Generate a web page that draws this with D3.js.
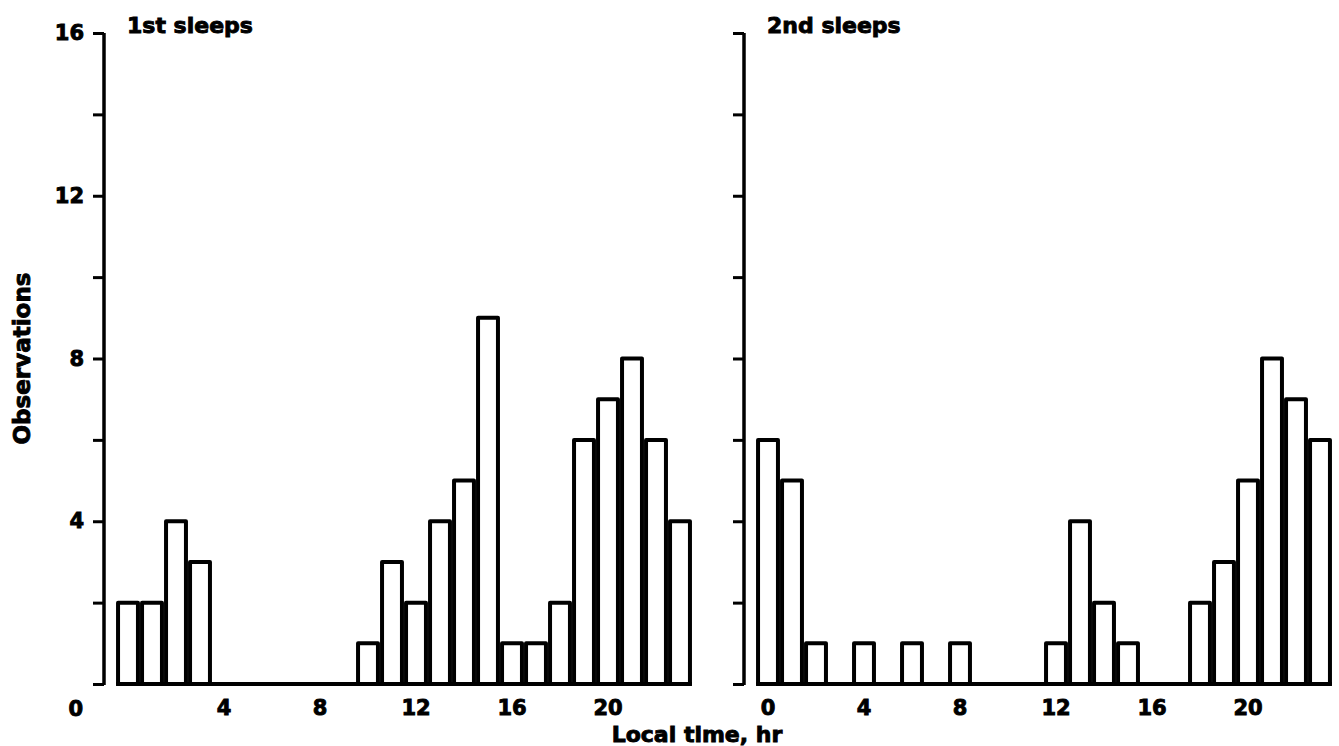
<!DOCTYPE html>
<html>
<head>
<meta charset="utf-8">
<script src="https://cdn.jsdelivr.net/npm/d3@7/dist/d3.min.js"></script>
<style>
  html, body { margin: 0; padding: 0; background: #fff; }
  svg { display: block; }
  text { font-family: "DejaVu Sans", "Liberation Sans", sans-serif; font-weight: bold; fill: #000; stroke: #000; stroke-width: 0.9px; }
</style>
</head>
<body>
<svg id="chart" width="1339" height="746"></svg>
<script>
// ---- data ----
const hours = d3.range(24);
const firstSleeps  = [2,2,4,3,0,0,0,0,0,0,1,3,2,4,5,9,1,1,2,6,7,8,6,4];
const secondSleeps = [6,5,1,0,1,0,1,0,1,0,0,0,1,4,2,1,0,0,2,3,5,8,7,6];
const panelTitles = ["1st sleeps", "2nd sleeps"];
const yTicks = [0,2,4,6,8,10,12,14,16];
const yTickLabels = [4,8,12,16];
const xTicksLeft = [4,8,12,16,20];
const xTicksRight = [0,4,8,12,16,20];
const yTitle = "Observations";
const xTitle = "Local time, hr";

// ---- layout ----
const svg = d3.select("#chart");
svg.append("rect").attr("width",1339).attr("height",746).attr("fill","#fff");

const y = d3.scaleLinear().domain([0,16]).range([684,33]);

const panels = [
  {data: firstSleeps, title: panelTitles[0], dx: 0, xt: xTicksLeft, labels: true},
  {data: secondSleeps, title: panelTitles[1], dx: 640, xt: xTicksRight, labels: false}
];

panels.forEach(p => {
  const g = svg.append("g").attr("transform", `translate(${p.dx},0)`);
  const x = d3.scaleBand().domain(hours).range([116, 692]).paddingInner(0.17).paddingOuter(0.085);

  // y axis
  const yAxis = d3.axisLeft(y).tickValues(yTicks).tickSize(11).tickPadding(8)
    .tickFormat(d => (p.labels && yTickLabels.includes(d)) ? d : "");
  const ya = g.append("g").attr("transform","translate(104,0)").call(yAxis);
  ya.select(".domain").attr("d", `M0,${y(16)}V${y(0)+1}`).attr("stroke","#000").attr("stroke-width",3.5).attr("fill","none");
  ya.selectAll(".tick line").attr("stroke","#000").attr("stroke-width",3);
  ya.selectAll(".tick text").attr("font-size",21).attr("font-family","DejaVu Sans").attr("font-weight","bold").attr("fill","#000").attr("dx",-1);

  // bars
  const rows = hours.map(h => ({h, v: p.data[h]})).filter(d => d.v > 0);
  g.append("g").selectAll("rect").data(rows).join("rect")
    .attr("x", d => x(d.h))
    .attr("width", x.bandwidth())
    .attr("y", d => y(d.v))
    .attr("height", d => y(0) - y(d.v))
    .attr("fill","#fff")
    .attr("stroke","#000")
    .attr("stroke-width",4)
    .attr("stroke-linejoin","round");

  // baseline
  g.append("line")
    .attr("x1", x(0) - 2).attr("x2", x(23) + x.bandwidth() + 2)
    .attr("y1", y(0)).attr("y2", y(0))
    .attr("stroke","#000").attr("stroke-width",4);

  // x tick labels
  const xAxis = d3.axisBottom(x).tickValues(p.xt).tickSize(0).tickPadding(16);
  const xa = g.append("g").attr("transform",`translate(0,${y(0)})`).call(xAxis);
  xa.select(".domain").remove();
  xa.selectAll(".tick text").attr("font-size",21).attr("font-family","DejaVu Sans").attr("font-weight","bold").attr("fill","#000");

  // panel title
  g.append("text").attr("x", 127).attr("y", 33).attr("font-size", 22).text(p.title);
});

// "0" y label placed below the axis at lower left
svg.append("text").attr("x", 83).attr("y", y(0) + 32).attr("text-anchor","end").attr("font-size",21).text(yTicks[0]);

// axis titles
svg.append("text").attr("transform", `translate(30,${y(8)}) rotate(-90)`).attr("text-anchor","middle").attr("font-size",23).text(yTitle);
svg.append("text").attr("x", 697).attr("y", 742).attr("text-anchor","middle").attr("font-size",22).text(xTitle);
</script>
</body>
</html>
